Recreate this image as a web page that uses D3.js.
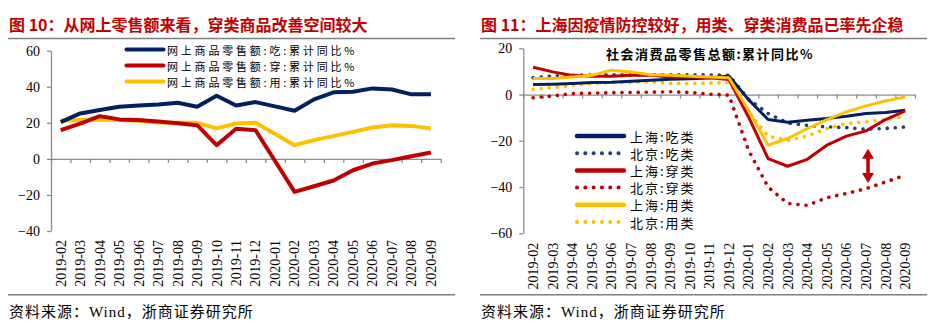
<!DOCTYPE html>
<html>
<head>
<meta charset="utf-8">
<title>网上零售额与上海北京社零</title>
<style>
  body { margin: 0; background: #fff; }
  svg { display: block; }
  text { font-family: "Liberation Serif", "Noto Sans CJK SC", serif; }
  .title { font-family: "Noto Sans CJK SC", sans-serif; font-weight: bold; font-size: 16px; fill: #C00000; }
  .src { font-size: 15px; fill: #000; letter-spacing: 1px; }
  .axis text { font-size: 14px; fill: #000; }
  .axis path, .axis line { stroke: #8c8c8c; stroke-width: 1.3; }
  .leg { font-family: "Noto Sans CJK SC", sans-serif; font-size: 11px; fill: #000; letter-spacing: 2.8px; }
  .leg2 { font-family: "Noto Sans CJK SC", sans-serif; font-size: 13px; fill: #000; letter-spacing: 2px; }
  .rule { stroke: #7f7f7f; stroke-width: 1.6; }
</style>
<script src="https://d3js.org/d3.v7.min.js"></script>
</head>
<body>
<script>
// categories shared by both charts
var months = ["2019-02","2019-03","2019-04","2019-05","2019-06","2019-07","2019-08","2019-09","2019-10","2019-11",
              "2019-12","2020-01","2020-02","2020-03","2020-04","2020-05","2020-06","2020-07","2020-08","2020-09"];

// fig 10: online retail sales, cumulative yoy %
var onlineFood = [20.4, 25.2, 27.1, 28.9, 29.6, 30.2, 31.1, 28.9, 35.0, 29.6, 31.5, 29.1, 26.7, 33.0, 36.9, 37.2, 39.1, 38.5, 35.8, 35.9];
var onlineWear = [15.9, 19.6, 23.7, 21.9, 21.5, 20.7, 19.8, 18.7, 7.6, 16.7, 15.9, -1.2, -18.3, -15.2, -12.0, -6.3, -2.6, -0.7, 1.5, 3.5];
var onlineUse  = [21.1, 21.5, 21.9, 21.5, 21.1, 20.2, 20.0, 20.0, 16.9, 19.6, 20.0, 13.8, 7.6, 10.4, 12.6, 15.0, 17.4, 18.7, 18.3, 16.9];
var leftTicks = [-40, -20, 0, 20, 40, 60];

// fig 11: retail sales of consumer goods, Shanghai / Beijing, cumulative yoy %
var shFood = [4.3, 4.5, 4.8, 5.2, 5.3, 5.7, 6.2, 6.6, 6.8, 7.2, 8.0, -2.2, -10.8, -12.0, -11.1, -10.4, -9.4, -8.2, -7.8, -6.8];
var bjFood = [7.3, 8.0, 8.3, 8.5, 8.5, 8.5, 8.5, 8.5, 8.5, 8.5, 8.3, -2.0, -8.2, -12.3, -13.3, -14.0, -14.3, -15.0, -14.7, -14.0];
var shWear = [11.8, 9.8, 8.3, 7.9, 7.9, 8.3, 8.3, 7.6, 7.6, 7.3, 6.5, -9.7, -27.7, -31.0, -28.0, -21.9, -18.0, -15.7, -10.8, -7.1];
var bjWear = [-1.4, -0.6, 0.4, 0.6, 0.8, 0.9, 1.0, 1.2, 0.9, 0.2, -0.3, -24.1, -40.0, -47.1, -47.9, -44.6, -42.8, -40.7, -37.8, -34.9];
var shUse  = [6.9, 6.9, 7.6, 8.3, 10.5, 9.8, 8.6, 8.3, 7.9, 7.6, 7.3, -6.8, -21.9, -19.0, -14.7, -10.8, -7.5, -4.9, -2.8, -1.0];
var bjUse  = [2.3, 3.0, 4.0, 4.8, 5.2, 5.2, 5.5, 4.9, 4.7, 4.9, 5.2, -7.5, -18.0, -19.8, -18.0, -14.7, -12.5, -11.8, -10.8, -9.4];
var rightTicks = [-60, -40, -20, 0, 20];
// gap arrow between 上海:穿类 and 北京:穿类
var arrowMonth = "2020-07";
var arrowRange = [-23.4, -38.2];

var svg = d3.select("body").append("svg")
  .attr("width", 946).attr("height", 332);

function frame(x0, x1, title) {
  svg.append("text").attr("class", "title")
     .attr("x", x0 + 1).attr("y", 23.5)
     .attr("dominant-baseline", "central")
     .text(title);
  svg.append("line").attr("class", "rule")
     .attr("x1", x0).attr("x2", x1).attr("y1", 38.5).attr("y2", 38.5);
  svg.append("line").attr("class", "rule")
     .attr("x1", x0).attr("x2", x1).attr("y1", 294.8).attr("y2", 294.8);
  svg.append("text").attr("class", "src")
     .attr("x", x0 + 1).attr("y", 311.5)
     .attr("dominant-baseline", "central")
     .text("资料来源：Wind，浙商证券研究所");
}

function axes(x, y, ticks, gap) {
  var xr = x.range();
  var n = months.length;
  var yb = y.range()[0];
  // y axis
  svg.append("g").attr("class", "axis")
     .attr("transform", "translate(" + xr[0] + ",0)")
     .call(d3.axisLeft(y).tickValues(ticks).tickSize(4).tickSizeOuter(0).tickPadding(7));
  // category axis at zero, ticks between categories
  var edge = d3.scaleLinear().domain([0, n]).range(xr);
  svg.append("g").attr("class", "axis")
     .attr("transform", "translate(0," + y(0) + ")")
     .call(d3.axisBottom(edge).tickValues(d3.range(n + 1)).tickSize(4).tickSizeOuter(0).tickFormat(""));
  // labels at the bottom of the plot
  var lab = svg.append("g").attr("class", "axis")
     .attr("transform", "translate(0," + yb + ")")
     .call(d3.axisBottom(x).tickSize(0).tickPadding(0));
  lab.select(".domain").remove();
  lab.selectAll("text")
     .attr("transform", "rotate(-90)")
     .attr("y", 0).attr("x", -gap)
     .attr("dy", "0.35em")
     .style("text-anchor", "end");
}

function series(x, y, vals, color, width, dotted) {
  var line = d3.line()
    .x(function (d, i) { return x(months[i]) + x.bandwidth() / 2; })
    .y(function (d) { return y(d); });
  var p = svg.append("path")
    .datum(vals)
    .attr("fill", "none")
    .attr("stroke", color)
    .attr("stroke-width", width)
    .attr("stroke-linejoin", "round")
    .attr("d", line);
  if (dotted) p.attr("stroke-dasharray", "0.1,8").attr("stroke-linecap", "round");
}

// ---------- fig 10 ----------
frame(8, 455, "图 10：从网上零售额来看，穿类商品改善空间较大");

var x1 = d3.scaleBand().domain(months).range([51, 440.7]);
var y1 = d3.scaleLinear().domain([-40, 60]).range([231, 50.7]);
axes(x1, y1, leftTicks, 9);

var leftSeries = [
  {name: "网上商品零售额:吃:累计同比%", vals: onlineFood, color: "#002060"},
  {name: "网上商品零售额:穿:累计同比%", vals: onlineWear, color: "#C00000"},
  {name: "网上商品零售额:用:累计同比%", vals: onlineUse,  color: "#FFC000"}
];
leftSeries.slice().reverse().forEach(function (s) { series(x1, y1, s.vals, s.color, 4, false); });

var legY1 = [49.5, 65.5, 81.5];
leftSeries.forEach(function (s, i) {
  svg.append("line").attr("x1", 126.5).attr("x2", 163.5)
     .attr("y1", legY1[i]).attr("y2", legY1[i])
     .attr("stroke", s.color).attr("stroke-width", 4).attr("stroke-linecap", "round");
  svg.append("text").attr("class", "leg")
     .attr("x", 167).attr("y", legY1[i])
     .attr("dominant-baseline", "central")
     .text(s.name);
});

// ---------- fig 11 ----------
frame(480, 927, "图 11：上海因疫情防控较好，用类、穿类消费品已率先企稳");

var x2 = d3.scaleBand().domain(months).range([523.3, 915]);
var y2 = d3.scaleLinear().domain([-60, 20]).range([233.3, 48.3]);
axes(x2, y2, rightTicks, 9.5);

svg.append("text")
   .attr("x", 710).attr("y", 53.5)
   .attr("text-anchor", "middle")
   .attr("dominant-baseline", "central")
   .style("font-family", "'Noto Sans CJK SC', sans-serif")
   .style("font-weight", "bold").style("font-size", "13px").style("letter-spacing", "1.5px")
   .text("社会消费品零售总额:累计同比%");

var rightSeries = [
  {name: "上海:吃类", vals: shFood, color: "#002060", dotted: false},
  {name: "北京:吃类", vals: bjFood, color: "#25416E", dotted: true},
  {name: "上海:穿类", vals: shWear, color: "#C00000", dotted: false},
  {name: "北京:穿类", vals: bjWear, color: "#C00000", dotted: true},
  {name: "上海:用类", vals: shUse,  color: "#FFC000", dotted: false},
  {name: "北京:用类", vals: bjUse,  color: "#FFC000", dotted: true}
];
var drawOrder = [3, 5, 1, 0, 2, 4];
drawOrder.forEach(function (k) {
  var s = rightSeries[k];
  series(x2, y2, s.vals, s.color, s.dotted ? 3.6 : 3, s.dotted);
});

rightSeries.forEach(function (s, i) {
  var ly = 136 + i * 17.2;
  var l = svg.append("line").attr("x1", 577).attr("x2", 624)
     .attr("y1", ly).attr("y2", ly)
     .attr("stroke", s.color).attr("stroke-width", s.dotted ? 4 : 4.5);
  if (s.dotted) l.attr("stroke-dasharray", "0.1,8.2").attr("stroke-linecap", "round");
  else l.attr("stroke-linecap", "round");
  svg.append("text").attr("class", "leg2")
     .attr("x", 630).attr("y", ly)
     .attr("dominant-baseline", "central")
     .text(s.name);
});

// double arrow
var ax = x2(arrowMonth) + x2.bandwidth() / 2 + 2;
var ya = y2(arrowRange[0]), yb = y2(arrowRange[1]);
svg.append("line").attr("x1", ax).attr("x2", ax).attr("y1", ya + 8).attr("y2", yb - 8)
   .attr("stroke", "#C00000").attr("stroke-width", 3.5);
svg.append("path")
   .attr("d", "M" + ax + "," + ya + "L" + (ax - 6) + "," + (ya + 10) + "L" + (ax + 6) + "," + (ya + 10) + "Z" +
              "M" + ax + "," + yb + "L" + (ax - 6) + "," + (yb - 10) + "L" + (ax + 6) + "," + (yb - 10) + "Z")
   .attr("fill", "#C00000");
</script>
</body>
</html>
